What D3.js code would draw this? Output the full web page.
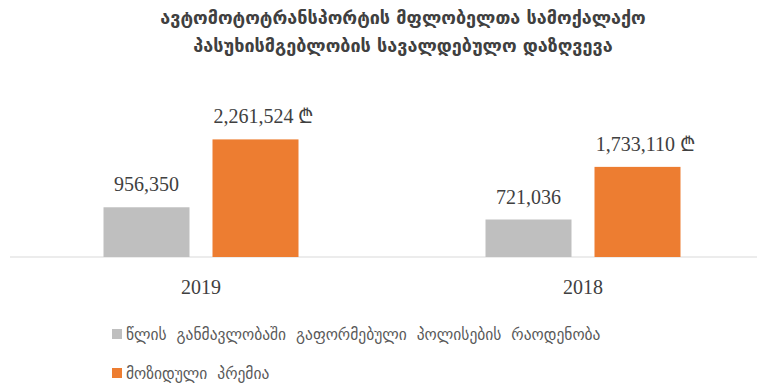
<!DOCTYPE html>
<html>
<head>
<meta charset="utf-8">
<script src="https://cdn.jsdelivr.net/npm/d3@7"></script>
<style>
  html, body { margin: 0; padding: 0; background: #fff; }
  svg { display: block; }
</style>
</head>
<body>
<svg id="chart" width="768" height="391"></svg>
<script>
// Chart data
const years = ["2019", "2018"];
const policyCounts = [956350, 721036];
const premiums = [2261524, 1733110];
const seriesNames = [
  "წლის განმავლობაში გაფორმებული პოლისების რაოდენობა",
  "მოზიდული პრემია"
];
const titleLines = [
  "ავტომოტოტრანსპორტის მფლობელთა სამოქალაქო",
  "პასუხისმგებლობის სავალდებულო დაზღვევა"
];
const seriesColors = ["#bfbfbf", "#ed7d31"];

const svg = d3.select("#chart");
const georgianFont = "'DejaVu Sans', 'Noto Sans', sans-serif";
const numberFont = "'Liberation Serif', 'DejaVu Serif', serif";

// Title
svg.append("g").selectAll("text")
  .data(titleLines)
  .join("text")
  .attr("x", 403)
  .attr("y", (d, i) => 24 + i * 28)
  .attr("text-anchor", "middle")
  .attr("font-family", georgianFont)
  .attr("font-weight", "bold")
  .attr("font-size", 18)
  .attr("fill", "#404040")
  .text(d => d);

// Scales
const baseY = 257;
const groupWidth = 195;
const x0 = d3.scaleBand().domain(years).range([10, 774]);
const x1 = d3.scaleBand().domain([0, 1]).range([0, groupWidth]).paddingInner(0.211);
const y = d3.scaleLinear().domain([0, 2500000]).range([baseY, 127]);

const rows = years.map((yr, i) => ({ year: yr, values: [policyCounts[i], premiums[i]] }));

// Baseline axis
svg.append("line")
  .attr("x1", 10).attr("x2", 757)
  .attr("y1", baseY).attr("y2", baseY)
  .attr("stroke", "#d9d9d9").attr("stroke-width", 1.2);

const groups = svg.append("g").selectAll("g")
  .data(rows)
  .join("g")
  .attr("transform", d => `translate(${x0(d.year) + x0.bandwidth() / 2 - groupWidth / 2},0)`);

groups.selectAll("rect")
  .data(d => d.values.map((v, k) => ({ v, k })))
  .join("rect")
  .attr("x", d => x1(d.k))
  .attr("width", x1.bandwidth())
  .attr("y", d => y(d.v))
  .attr("height", d => baseY - y(d.v))
  .attr("fill", d => seriesColors[d.k]);

const fmt = d3.format(",");
groups.selectAll("text.val")
  .data(d => d.values.map((v, k) => ({ v, k })))
  .join("text")
  .attr("class", "val")
  .attr("x", d => x1(d.k) + x1.bandwidth() / 2 + (d.k === 1 ? 8 : 0))
  .attr("y", d => y(d.v) - 16)
  .attr("text-anchor", "middle")
  .attr("font-family", numberFont)
  .attr("font-size", 20)
  .attr("fill", "#404040")
  .text(d => d.k === 1 ? fmt(d.v) + " ₾" : fmt(d.v));

// Category labels
svg.append("g").selectAll("text")
  .data(years)
  .join("text")
  .attr("x", d => x0(d) + x0.bandwidth() / 2)
  .attr("y", 294)
  .attr("text-anchor", "middle")
  .attr("font-family", numberFont)
  .attr("font-size", 20)
  .attr("fill", "#404040")
  .text(d => d);

// Legend
const legend = svg.append("g").selectAll("g")
  .data(seriesNames)
  .join("g")
  .attr("transform", (d, i) => `translate(112,${334 + i * 39})`);
legend.append("rect")
  .attr("x", 0).attr("y", -5)
  .attr("width", 10).attr("height", 10)
  .attr("fill", (d, i) => seriesColors[i]);
legend.append("text")
  .attr("x", 14).attr("y", 5.5)
  .attr("font-family", georgianFont)
  .attr("font-size", 15.5)
  .attr("word-spacing", 5)
  .attr("fill", "#595959")
  .text(d => d);
</script>
</body>
</html>
